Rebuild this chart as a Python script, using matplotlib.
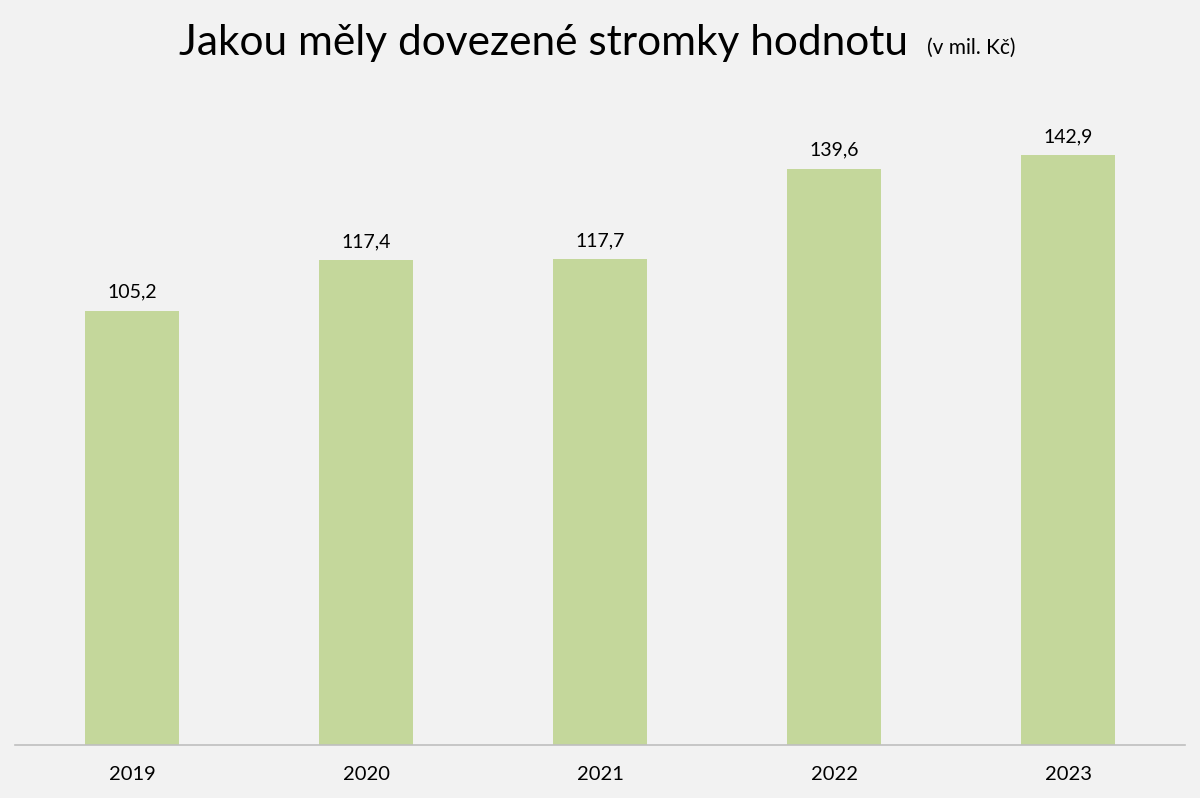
import matplotlib.pyplot as plt

years = ["2019", "2020", "2021", "2022", "2023"]
values = [105.2, 117.4, 117.7, 139.6, 142.9]
value_labels = ["105,2", "117,4", "117,7", "139,6", "142,9"]

bg = "#f2f2f2"
bar_color = "#c4d79b"

plt.rcParams['font.family'] = ['Lato', 'DejaVu Sans']

W, H = 1200, 798
fig = plt.figure(figsize=(W / 100, H / 100), dpi=100, facecolor=bg)

# axes: baseline at y=745 px, 160 units up to ~85 px
ax = fig.add_axes([15 / W, (H - 745) / H, 1170 / W, (745 - 84.6) / H])
ax.set_facecolor(bg)

x = range(len(years))
bars = ax.bar(x, values, width=0.4, color=bar_color)
ax.set_xlim(-0.5, len(years) - 0.5)
ax.set_ylim(0, 160)

for b, lab in zip(bars, value_labels):
    ax.annotate(lab, (b.get_x() + b.get_width() / 2, b.get_height()),
                xytext=(0, 9.4), textcoords="offset points",
                ha="center", va="baseline", fontsize=14, color="#000000")

ax.set_xticks(list(x))
ax.set_xticklabels(years, fontsize=14.5)
ax.tick_params(axis="x", length=0, pad=15)
ax.set_yticks([])
for side in ["top", "left", "right"]:
    ax.spines[side].set_visible(False)
ax.spines["bottom"].set_color("#bfbfbf")
ax.spines["bottom"].set_linewidth(1.2)

# title in two parts
fig.text(908 / W, 1 - 55 / H, "Jakou měly dovezené stromky hodnotu",
         ha="right", va="baseline", fontsize=30.5, color="#000000")
fig.text(927 / W, 1 - 54 / H, "(v mil. Kč)",
         ha="left", va="baseline", fontsize=15, color="#000000")

fig.savefig("out.png", dpi=100, facecolor=bg)
